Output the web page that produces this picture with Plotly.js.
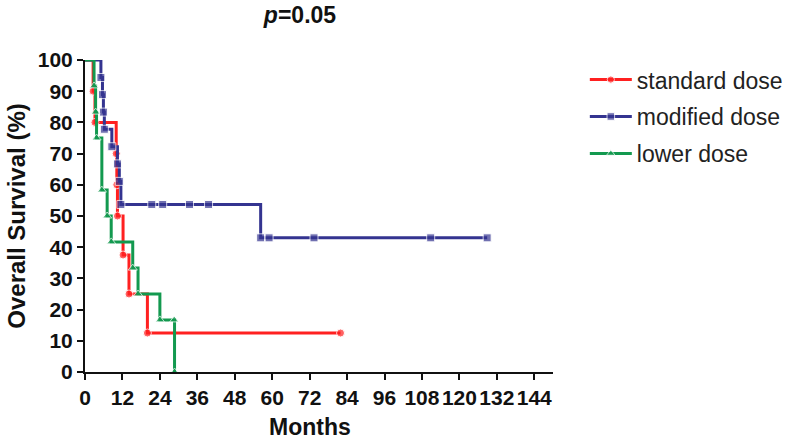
<!DOCTYPE html>
<html><head><meta charset="utf-8">
<script src="https://cdn.plot.ly/plotly-3.0.1.min.js"></script>
<style>html,body{margin:0;padding:0;background:#fff}</style>
</head><body><div id="chart" style="width:800px;height:440px"></div>
<script>
const seriesNames = ['standard dose', 'modified dose', 'lower dose'];
const seriesColors = ['#ff2020', '#343490', '#13994f'];
const seriesSymbols = ['circle', 'square', 'triangle-up'];

const standardMonths = [0, 2.6, 3.2, 10.0, 10.2, 10.4, 12.2, 14.1, 20.0, 81.9];
const standardSurvival = [100, 90, 80, 70, 60, 50, 37.5, 25, 12.5, 12.5];

const modifiedMonths = [0, 5.1, 5.6, 5.9, 6.2, 8.6, 10.4, 11.0, 11.5, 21.4, 24.9, 33.5, 39.6, 56.3, 59.0, 73.4, 110.8, 128.9];
const modifiedSurvival = [100, 94.4, 88.9, 83.3, 77.8, 72.2, 66.7, 61.1, 53.7, 53.7, 53.7, 53.7, 53.7, 43.0, 43.0, 43.0, 43.0, 43.0];

const lowerMonths = [0, 2.9, 3.4, 3.7, 5.4, 7.1, 8.4, 15.3, 17.0, 24.0, 28.6, 28.7];
const lowerSurvival = [100, 91.7, 83.3, 75, 58.3, 50, 41.7, 33.3, 25, 16.7, 16.7, 0];

const xTickValues = [0, 12, 24, 36, 48, 60, 72, 84, 96, 108, 120, 132, 144];
const yTickValues = [0, 10, 20, 30, 40, 50, 60, 70, 80, 90, 100];

const allMonths = [standardMonths, modifiedMonths, lowerMonths];
const allSurvival = [standardSurvival, modifiedSurvival, lowerSurvival];

const traces = allMonths.map((m, i) => ({
  type: 'scatter',
  mode: 'lines+markers',
  name: seriesNames[i],
  x: m,
  y: allSurvival[i],
  line: {shape: 'hv', color: seriesColors[i], width: 3},
  marker: {symbol: seriesSymbols[i], color: seriesColors[i],
           size: m.map((v, k) => k === 0 ? 0 : 8)},
  legendgroup: 'g' + i,
  cliponaxis: false
}));

const fontFam = '"Liberation Sans", Arial, sans-serif';

const layout = {
  width: 800, height: 440,
  margin: {l: 85, r: 247, t: 60, b: 68, autoexpand: false},
  paper_bgcolor: '#fff', plot_bgcolor: '#fff',
  font: {family: fontFam, color: '#111'},
  title: {text: '<b><i>p</i>=0.05</b>', x: 0.375, xanchor: 'center', y: 0.965, yanchor: 'middle',
          font: {family: fontFam, size: 23, color: '#111'}},
  showlegend: true,
  legend: {x: 1.068, xanchor: 'left', y: 1.006, yanchor: 'top',
           font: {family: fontFam, size: 23, color: '#222'},
           traceorder: 'grouped', tracegroupgap: 4, itemwidth: 42,
           bgcolor: 'rgba(0,0,0,0)'},
  xaxis: {range: [0, 150], tickvals: xTickValues, ticktext: xTickValues.map(String), tickangle: 0,
          showgrid: false, zeroline: false, showline: true, linecolor: '#111', linewidth: 2,
          ticks: 'outside', ticklen: 6, tickwidth: 2, tickcolor: '#111',
          tickfont: {family: fontFam, size: 21, color: '#111', weight: 'bold'}},
  yaxis: {range: [0, 100], tickvals: yTickValues, ticktext: yTickValues.map(String),
          showgrid: false, zeroline: false, showline: true, linecolor: '#111', linewidth: 2,
          ticks: 'outside', ticklen: 6, tickwidth: 2, tickcolor: '#111',
          tickfont: {family: fontFam, size: 21, color: '#111', weight: 'bold'},
          title: {text: '<b>Overall Survival (%)</b>', standoff: 5,
                  font: {family: fontFam, size: 24, color: '#111'}}},
  annotations: [{text: '<b>Months</b>', x: 72, xref: 'x', y: 0, yref: 'paper',
                 yanchor: 'top', yshift: -40, showarrow: false,
                 font: {family: fontFam, size: 23, color: '#111'}}]
};

Plotly.newPlot('chart', traces, layout, {displayModeBar: false, staticPlot: true});
</script></body></html>
